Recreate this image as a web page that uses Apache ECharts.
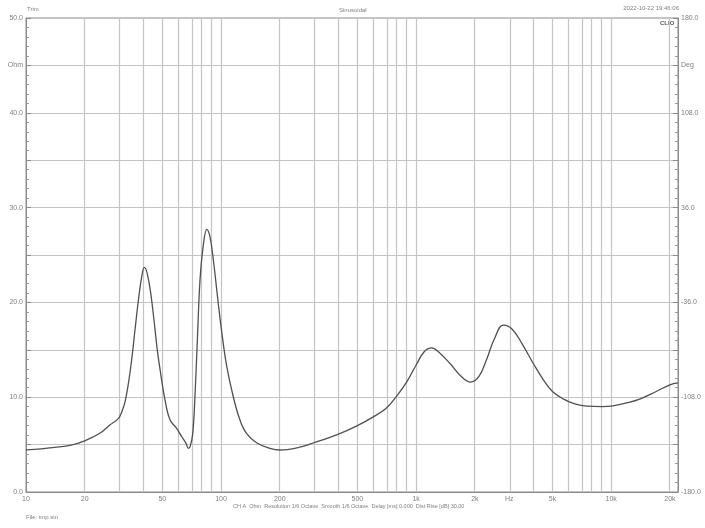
<!DOCTYPE html>
<html><head><meta charset="utf-8">
<script src="https://cdn.jsdelivr.net/npm/echarts@6/dist/echarts.min.js"></script>
<style>html,body{margin:0;padding:0;background:#fff}#c{width:705px;height:528px}</style>
</head><body><div id="c"></div>
<script>
// Impedance curve (Hz, Ohm)
const freqs = [10,12,14,17,20,23.9,26.9,29.8,31,32.2,33.5,34.8,36.2,37.7,39.2,40.4,41.8,43.6,45.3,47,49,51.6,54.8,59.2,62.9,66.1,68,69.4,71.6,73.6,75.7,78,81.3,84.5,87.7,91.3,95.9,101,107,115.5,125,135,152,178,200,250,300,400,500,600,700,800,900,1000,1100,1200,1300,1500,1700,1900,2100,2300,2500,2800,3100,3500,4000,4500,5000,5700,6500,7500,9000,10000,12000,14000,17000,20000,22000];
const ohms  = [4.45,4.55,4.7,4.95,5.4,6.19,7.07,7.77,8.47,9.53,11.46,13.92,17.09,20.25,22.71,23.7,23.07,20.96,18.14,15.15,12.52,9.7,7.59,6.72,5.83,5.13,4.61,4.78,6.19,10.41,16.38,22.36,26.23,27.71,26.93,24.47,20.6,16.74,13.22,10.05,7.59,6.19,5.2,4.61,4.43,4.7,5.2,6.1,7.0,7.9,8.8,10.2,11.7,13.4,14.8,15.2,14.8,13.5,12.2,11.6,12.2,14.0,16.0,17.6,17.2,15.6,13.5,11.8,10.6,9.8,9.3,9.05,9.0,9.05,9.4,9.8,10.6,11.3,11.5];
const gridFreqs = [20,30,40,50,60,70,80,90,100,200,300,400,500,600,700,800,900,1000,2000,3000,4000,5000,6000,7000,8000,9000,10000,20000];
const labelFreqs = [10,20,50,100,200,500,1000,2000,3000,5000,10000,20000];
const labelTexts = ['10','20','50','100','200','500','1k','2k','Hz','5k','10k','20k'];
const xMinHz = 10, xMaxHz = 22000;
const yLeftLabels = {0:'0.0',10:'10.0',20:'20.0',30:'30.0',40:'40.0',45:'Ohm',50:'50.0'};
const yRightLabels = {'-180':'-180.0','-108':'-108.0','-36':'-36.0','36':'36.0','108':'108.0','144':'Deg','180':'180.0'};

const L = Math.log10;
const chart = echarts.init(document.getElementById('c'), null, {renderer:'canvas'});
const txt = '#808080';
const fontFam = '"Liberation Sans", Arial, sans-serif';
const labelVals = labelFreqs.map(L);
chart.setOption({
  animation:false,
  backgroundColor:'#fff',
  grid:{left:26,right:27,top:18,bottom:36,show:true,borderColor:'#8a8a8a',borderWidth:1},
  xAxis:{type:'value',min:L(xMinHz),max:L(xMaxHz),
    axisLine:{show:true,lineStyle:{color:'#8a8a8a'}},
    axisTick:{show:false},
    splitLine:{show:false},
    axisLabel:{customValues:labelVals,color:txt,fontSize:7,fontFamily:fontFam,margin:4,
      formatter:function(v){let best=0,bd=1e9;labelVals.forEach((lv,i)=>{const d=Math.abs(lv-v);if(d<bd){bd=d;best=i;}});return labelTexts[best];}}
  },
  yAxis:[
    {type:'value',min:0,max:50,interval:5,position:'left',
      axisLine:{show:true,lineStyle:{color:'#8a8a8a'}},
      axisTick:{show:true,inside:true,length:5,lineStyle:{color:'#8a8a8a'}},
      minorTick:{show:true,splitNumber:5,length:3,lineStyle:{color:'#9a9a9a'}},
      splitLine:{show:true,lineStyle:{color:'#c4c4c4',width:1.2}},
      axisLabel:{color:txt,fontSize:7,fontFamily:fontFam,margin:3,formatter:v=>yLeftLabels[v]||''}
    },
    {type:'value',min:-180,max:180,interval:36,position:'right',
      axisLine:{show:true,lineStyle:{color:'#8a8a8a'}},
      axisTick:{show:true,inside:true,length:5,lineStyle:{color:'#8a8a8a'}},
      minorTick:{show:true,splitNumber:5,length:3,lineStyle:{color:'#9a9a9a'}},
      splitLine:{show:false},
      axisLabel:{color:txt,fontSize:7,fontFamily:fontFam,margin:3,formatter:v=>yRightLabels[String(v)]||''}
    }
  ],
  series:[
    {type:'line',data:[],silent:true,z:1,
      markLine:{silent:true,symbol:'none',label:{show:false},animation:false,
        lineStyle:{color:'#c4c4c4',width:1.2,type:'solid'},
        data:gridFreqs.map(f=>({xAxis:L(f)}))}
    },
    {type:'line',z:5,smooth:0.4,showSymbol:false,
      lineStyle:{color:'#505050',width:1.3},
      data:freqs.map((f,i)=>[L(f),ohms[i]])}
  ],
  graphic:[
    {type:'text',left:27,top:6,style:{text:'Trim',fill:txt,font:'6px '+fontFam}},
    {type:'text',left:339,top:7,style:{text:'Sinusoidal',fill:txt,font:'6px '+fontFam}},
    {type:'text',right:26,top:5,style:{text:'2022-10-22 19:46:06',fill:txt,font:'6px '+fontFam}},
    {type:'text',left:660,top:20,style:{text:'CLIO',fill:'#555',font:'bold 6px '+fontFam}},
    {type:'text',left:233,top:503,style:{text:'CH A  Ohm  Resolution 1/6 Octave  Smooth 1/6 Octave  Delay [ms] 0.000  Dist Rise [dB] 30.00',fill:txt,font:'5.5px '+fontFam}},
    {type:'text',left:26,top:514,style:{text:'File: imp.sin',fill:txt,font:'6px '+fontFam}}
  ]
});
</script></body></html>
